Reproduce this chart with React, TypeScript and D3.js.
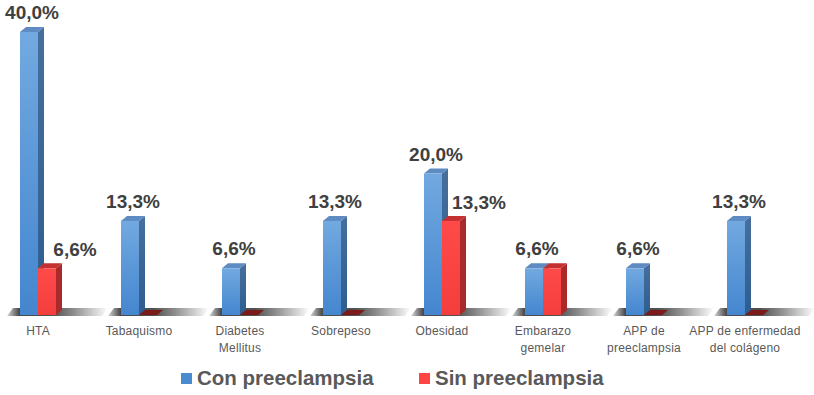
import React from 'react';
import * as d3 from 'd3';

const categories = [
  'HTA',
  'Tabaquismo',
  'Diabetes Mellitus',
  'Sobrepeso',
  'Obesidad',
  'Embarazo gemelar',
  'APP de preeclampsia',
  'APP de enfermedad del colágeno',
];
const categoryLines = [
  ['HTA'],
  ['Tabaquismo'],
  ['Diabetes', 'Mellitus'],
  ['Sobrepeso'],
  ['Obesidad'],
  ['Embarazo', 'gemelar'],
  ['APP de', 'preeclampsia'],
  ['APP de enfermedad', 'del colágeno'],
];
const conPreeclampsia = [40.0, 13.3, 6.6, 13.3, 20.0, 6.6, 6.6, 13.3];
const sinPreeclampsia = [6.6, 0, 0, 0, 13.3, 6.6, 0, 0];
const seriesNames = ['Con preeclampsia', 'Sin preeclampsia'];

const W = 814;
const H = 395;
const base = 315;
const barW = 18;
const dx = 6;
const dy = 5;

const fmt = (v: number) => v.toFixed(1).replace('.', ',') + '%';

export default function App() {
  const x = d3.scalePoint<string>().domain(categories).range([38, 745]);
  const y = d3.scaleLinear().domain([0, 40]).range([base, 32]);

  const bar = (x0: number, v: number, key: string, front: string, side: string, top: string) => {
    const yt = y(v);
    if (v === 0) {
      return (
        <polygon
          key={key}
          points={`${x0},${base} ${x0 + barW},${base} ${x0 + barW + dx},${base - dy} ${x0 + dx},${base - dy}`}
          fill="#7b1a1a"
        />
      );
    }
    return (
      <g key={key}>
        <polygon
          points={`${x0 + barW},${yt} ${x0 + barW + dx},${yt - dy} ${x0 + barW + dx},${base - dy} ${x0 + barW},${base}`}
          fill={side}
        />
        <polygon
          points={`${x0},${yt} ${x0 + barW},${yt} ${x0 + barW + dx},${yt - dy} ${x0 + dx},${yt - dy}`}
          fill={top}
        />
        <rect x={x0} y={yt} width={barW} height={base - yt} fill={front} />
      </g>
    );
  };

  const labelStyle = { fontFamily: '"Liberation Sans", Arial, sans-serif', fontWeight: 700, fontSize: 19, fill: '#404040' };

  return (
    <svg width={W} height={H} style={{ position: 'absolute', left: 0, top: 0, background: '#fff' }}>
      <defs>
        <linearGradient id="blueFront" x1="0" y1="0" x2="0" y2="1">
          <stop offset="0" stopColor="#72a9e0" />
          <stop offset="1" stopColor="#4486cf" />
        </linearGradient>
        <linearGradient id="blueSide" x1="0" y1="0" x2="0" y2="1">
          <stop offset="0" stopColor="#466f9c" />
          <stop offset="1" stopColor="#2e5d8e" />
        </linearGradient>
        <linearGradient id="redFront" x1="0" y1="0" x2="0" y2="1">
          <stop offset="0" stopColor="#ff4a4a" />
          <stop offset="1" stopColor="#f43e3e" />
        </linearGradient>
        <linearGradient id="shadow" x1="0" y1="0" x2="1" y2="0">
          <stop offset="0" stopColor="#d8d8d8" />
          <stop offset="0.12" stopColor="#4a4a4a" />
          <stop offset="0.45" stopColor="#505050" />
          <stop offset="0.65" stopColor="#8a8a8a" />
          <stop offset="1" stopColor="#ffffff" />
        </linearGradient>
      </defs>

      {categories.map((c) => {
        const cx = x(c)!;
        return (
          <polygon
            key={'sh' + c}
            points={`${cx - 31},${base + 1} ${cx + 64},${base + 1} ${cx + 70},${base - 7} ${cx - 25},${base - 7}`}
            fill="url(#shadow)"
          />
        );
      })}

      {categories.map((c, i) => {
        const cx = x(c)!;
        return (
          <g key={'b' + c}>
            {bar(cx - barW, conPreeclampsia[i], 'bl', 'url(#blueFront)', 'url(#blueSide)', '#5d8bc2')}
            {bar(cx, sinPreeclampsia[i], 'r', 'url(#redFront)', '#a82a2a', '#c53030')}
          </g>
        );
      })}

      {categories.map((c, i) => {
        const cx = x(c)!;
        const v = conPreeclampsia[i];
        return (
          <text key={'lb' + c} x={cx - barW / 2 + dx / 2} y={y(v) - dy - 8} textAnchor="middle" style={labelStyle}>
            {fmt(v)}
          </text>
        );
      })}

      {categories.map((c, i) => {
        const cx = x(c)!;
        const v = sinPreeclampsia[i];
        if (v === 0 || v === conPreeclampsia[i]) return null;
        return (
          <text key={'lr' + c} x={cx + barW / 2 + 28} y={y(v) - dy - 7} textAnchor="middle" style={labelStyle}>
            {fmt(v)}
          </text>
        );
      })}

      {categories.map((c, i) => (
        <text
          key={'cat' + c}
          x={x(c)!}
          y={335}
          textAnchor="middle"
          style={{ fontFamily: '"Liberation Sans", Arial, sans-serif', fontSize: 12, fill: '#595959', letterSpacing: 0.2 }}
        >
          {categoryLines[i].map((line, j) => (
            <tspan key={j} x={x(c)!} dy={j === 0 ? 0 : 17}>
              {line}
            </tspan>
          ))}
        </text>
      ))}

      {seriesNames.map((s, i) => {
        const lx = i === 0 ? 181 : 419;
        return (
          <g key={s}>
            <rect x={lx} y={373} width={11} height={11} fill={i === 0 ? '#4a8bd0' : '#ff4444'} />
            <text
              x={lx + 16}
              y={385}
              style={{ fontFamily: '"Liberation Sans", Arial, sans-serif', fontWeight: 700, fontSize: 20.5, fill: '#595959' }}
            >
              {s}
            </text>
          </g>
        );
      })}
    </svg>
  );
}
